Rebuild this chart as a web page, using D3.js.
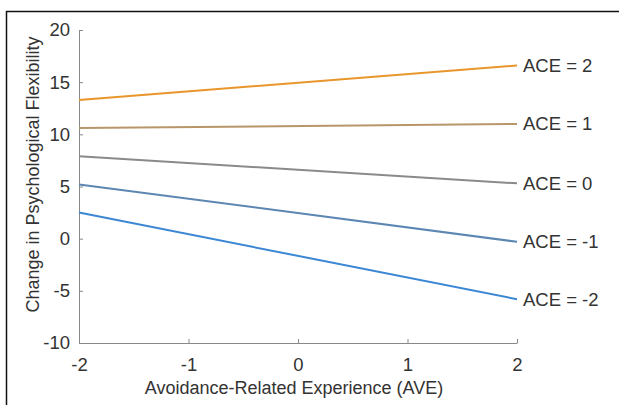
<!DOCTYPE html>
<html>
<head>
<meta charset="utf-8">
<script src="https://cdn.jsdelivr.net/npm/d3@7"></script>
<style>
  body { margin: 0; background: #fff; }
  svg { display: block; font-family: Arial, "Liberation Sans", Helvetica, sans-serif; }
  .tick text { fill: #333; font-size: 18.5px; }
  .axis-label { fill: #333; font-size: 18px; }
  .ace-label { fill: #333; font-size: 18.5px; }
</style>
</head>
<body>
<svg id="chart" width="619" height="405"></svg>
<script>
// data: predicted change at AVE = -2 and AVE = 2 for each ACE level
let ave = [-2, 2];
let ace_levels = [2, 1, 0, -1, -2];
let ace_start = [13.3, 10.6, 7.9, 5.2, 2.5];
let ace_end = [16.6, 11.0, 5.3, -0.3, -5.8];
let ace_colors = ["#e8962b", "#b8966a", "#8a8a8a", "#5d87b3", "#3b87d4"];
let x_ticks = [-2, -1, 0, 1, 2];
let y_ticks = [-10, -5, 0, 5, 10, 15, 20];

let svg = d3.select("#chart");

let margin = {top: 30, right: 102, bottom: 62, left: 79},
    width  = 619 - margin.left - margin.right,
    height = 405 - margin.top - margin.bottom;

let x = d3.scaleLinear().domain([-2, 2]).range([margin.left, margin.left + width]),
    y = d3.scaleLinear().domain([-10, 20]).range([margin.top + height, margin.top]);

// outer frame (open to right and bottom)
svg.append("path")
    .attr("d", "M6.5,405 V11.5 H619")
    .attr("fill", "none")
    .attr("stroke", "#111")
    .attr("stroke-width", 1.5);

// axes with inward ticks, hyphen minus like the original
let xAxis = svg.append("g")
    .attr("transform", `translate(0, ${y(-10)})`)
    .call(d3.axisBottom(x).tickValues(x_ticks).tickFormat((d) => String(d)).tickSizeInner(-4).tickSizeOuter(0).tickPadding(12));

let yAxis = svg.append("g")
    .attr("transform", `translate(${x(-2)}, 0)`)
    .call(d3.axisLeft(y).tickValues(y_ticks).tickFormat((d) => String(d)).tickSizeInner(-4).tickSizeOuter(0).tickPadding(9));

svg.selectAll(".domain, .tick line").attr("stroke", "#888");
svg.selectAll(".tick text").attr("font-family", null).attr("font-size", null);
xAxis.selectAll(".tick text").attr("dy", "0.85em");

// axis labels
svg.append("text")
    .classed("axis-label", true)
    .attr("text-anchor", "middle")
    .attr("x", x(0) - 4)
    .attr("y", 394)
    .text("Avoidance-Related Experience (AVE)");

svg.append("text")
    .classed("axis-label", true)
    .attr("text-anchor", "middle")
    .attr("transform", `translate(39, ${margin.top + height / 2 - 12}) rotate(-90)`)
    .text("Change in Psychological Flexibility");

// simple slope lines
let line = d3.line().x((d) => x(d[0])).y((d) => y(d[1]));

ace_levels.forEach((a, i) => {
    svg.append("path")
        .datum([[ave[0], ace_start[i]], [ave[1], ace_end[i]]])
        .attr("d", line)
        .attr("fill", "none")
        .attr("stroke", ace_colors[i])
        .attr("stroke-width", 2);

    svg.append("text")
        .classed("ace-label", true)
        .attr("x", x(ave[1]) + 6)
        .attr("y", y(ace_end[i]))
        .attr("dy", "0.35em")
        .text("ACE = " + a);
});
</script>
</body>
</html>
